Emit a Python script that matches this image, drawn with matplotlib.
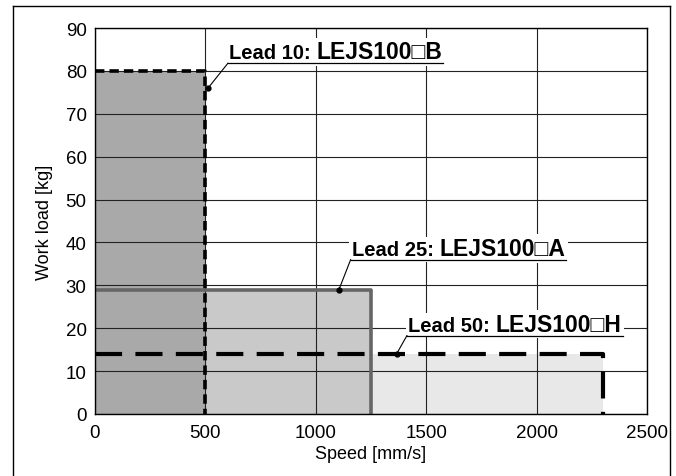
import matplotlib
matplotlib.use("Agg")
import matplotlib.pyplot as plt
from matplotlib.lines import Line2D

plt.rcParams["font.family"] = ["Liberation Sans", "DejaVu Sans"]

# ── Data ──────────────────────────────────────────────────────
leads = [10, 25, 50]
models = ["LEJS100\u25a1B", "LEJS100\u25a1A", "LEJS100\u25a1H"]
max_speed = [500, 1250, 2300]   # mm/s
max_load = [80, 29, 14]         # kg

fill_colors = ["#a9a9a9", "#c9c9c9", "#e8e8e8"]
edge_colors = ["black", "#666666", "black"]
edge_dashes = [(2.6, 1.4), None, (6.5, 3.2)]
edge_widths = [2.6, 2.6, 3.0]

# leader start (on the curve) and label anchor (start of underline), data coords
leader_from = [(512, 76), (1105, 29), (1366, 14)]
leader_to = [(602, 81.8), (1158, 36.0), (1413, 18.3)]

fig = plt.figure(figsize=(6.76, 4.77), dpi=100)
ax = fig.add_axes([0.1405, 0.13, 0.957 - 0.1405, 0.939 - 0.13])

# fills, lightest first
for i in reversed(range(len(leads))):
    ax.fill_between([0, max_speed[i]], 0, max_load[i],
                    color=fill_colors[i], linewidth=0, zorder=1)

ax.set_xlim(0, 2500)
ax.set_ylim(0, 90)
ax.set_xticks(range(0, 2501, 500))
ax.set_yticks(range(0, 91, 10))
ax.grid(True, color="#222222", linewidth=0.8)
ax.set_axisbelow(False)
for gl in ax.get_xgridlines() + ax.get_ygridlines():
    gl.set_zorder(2)
ax.tick_params(length=0, labelsize=13.5)
ax.tick_params(axis="x", pad=7)
ax.tick_params(axis="y", pad=6)
ax.set_xlabel("Speed [mm/s]", fontsize=13, labelpad=3)
ax.set_ylabel("Work load [kg]", fontsize=13, labelpad=9)
for sp in ax.spines.values():
    sp.set_linewidth(1.0)
    sp.set_zorder(6)

# boundary lines
for i in range(len(leads)):
    xs = [0, max_speed[i], max_speed[i]]
    ys = [max_load[i], max_load[i], 0]
    ln, = ax.plot(xs, ys, color=edge_colors[i], linewidth=edge_widths[i],
                  zorder=4 + (2 - i) * 0.1, solid_capstyle="butt",
                  dash_capstyle="butt")
    if edge_dashes[i] is not None:
        ln.set_dashes(edge_dashes[i])

# labels with leader lines and underline
white = dict(facecolor="white", edgecolor="none", pad=2)
for i in range(len(leads)):
    x0, y0 = leader_from[i]
    x1, y1 = leader_to[i]
    ax.plot([x0, x1], [y0, y1], color="black", linewidth=0.8, zorder=5.5)
    ax.plot(x0, y0, "o", color="black", markersize=3.5, zorder=5.5)
    t1 = ax.annotate(f"Lead {leads[i]}:", xy=(x1, y1), xytext=(1, 3.5),
                     textcoords="offset points", fontsize=14.5,
                     fontweight="bold", ha="left", va="baseline",
                     bbox=white, zorder=5)
    fig.canvas.draw()
    w1 = t1.get_window_extent().width * 72 / fig.dpi
    t2 = ax.annotate(models[i], xy=(x1, y1), xytext=(1 + w1 + 4, 3.5),
                     textcoords="offset points", fontsize=16.5,
                     fontweight="bold", ha="left", va="baseline",
                     bbox=white, zorder=5)
    fig.canvas.draw()
    bb = t2.get_window_extent()
    x_end = ax.transData.inverted().transform((bb.x1 + 1, bb.y0))[0]
    ax.plot([x1, x_end], [y1, y1], color="black", linewidth=0.9, zorder=5.5)

# outer frame (open at bottom)
fl, fr, ft = 13 / 676, 670 / 676, 1 - 7 / 477
for xs, ys in [([fl, fl], [0, ft]), ([fl, fr], [ft, ft]), ([fr, fr], [ft, 0])]:
    fig.add_artist(Line2D(xs, ys, color="black", linewidth=1.0))

fig.savefig("out.png", dpi=100)
